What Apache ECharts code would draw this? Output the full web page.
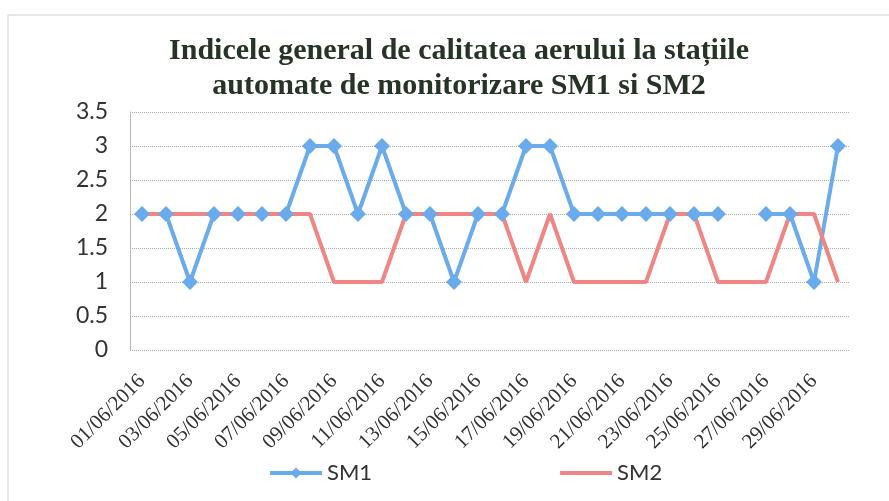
<!DOCTYPE html>
<html>
<head>
<meta charset="utf-8">
<script src="https://cdn.jsdelivr.net/npm/echarts@6/dist/echarts.min.js"></script>
<style>
html,body{margin:0;padding:0;background:#fff;}
#c{width:889px;height:501px;}
</style>
</head>
<body>
<div id="c"></div>
<script>
const categories = ["01/06/2016","02/06/2016","03/06/2016","04/06/2016","05/06/2016","06/06/2016","07/06/2016","08/06/2016","09/06/2016","10/06/2016","11/06/2016","12/06/2016","13/06/2016","14/06/2016","15/06/2016","16/06/2016","17/06/2016","18/06/2016","19/06/2016","20/06/2016","21/06/2016","22/06/2016","23/06/2016","24/06/2016","25/06/2016","26/06/2016","27/06/2016","28/06/2016","29/06/2016","30/06/2016"];
const sm1 = [2,2,1,2,2,2,2,3,3,2,3,2,2,1,2,2,3,3,2,2,2,2,2,2,2,null,2,2,1,3];
const sm2 = [2,2,2,2,2,2,2,2,1,1,1,2,2,2,2,2,1,2,1,1,1,1,2,2,1,1,1,2,2,1];
const yTicks = [0,0.5,1,1.5,2,2.5,3,3.5];

const chart = echarts.init(document.getElementById('c'));
chart.setOption({
  animation:false,
  backgroundColor:'#fff',
  title:{
    text:'Indicele general de calitatea aerului la stațiile\nautomate de monitorizare SM1 si SM2',
    left:454, textAlign:'center', top:29,
    textStyle:{fontFamily:'Liberation Serif',fontWeight:'bold',fontSize:30,color:'#263426',lineHeight:35}
  },
  graphic:[
    {type:'line',shape:{x1:8,y1:15,x2:889,y2:15},style:{stroke:'#cfcfcf',lineWidth:1}},
    {type:'line',shape:{x1:8,y1:15,x2:8,y2:501},style:{stroke:'#cfcfcf',lineWidth:1}}
  ],
  legend:{
    left:263, top:457, itemWidth:52, itemHeight:14, itemGap:186,
    textStyle:{fontFamily:'Lato',fontSize:22,color:'#333'},
    data:[
      {name:'SM1',lineStyle:{width:4}},
      {name:'SM2',lineStyle:{width:4},itemStyle:{opacity:0}}
    ]
  },
  grid:{left:130,right:39,top:112,bottom:151,containLabel:false},
  xAxis:{
    type:'category', data:categories, boundaryGap:true,
    axisLine:{show:false}, axisTick:{show:false},
    axisLabel:{interval:1, rotate:45, fontFamily:'Liberation Serif', fontSize:21, color:'#333', margin:28}
  },
  yAxis:{
    type:'value', min:0, max:3.5, interval:0.5,
    axisLine:{show:true,lineStyle:{color:'#bbb',width:1}},
    axisTick:{show:false},
    splitLine:{lineStyle:{color:'#aaa',type:'dotted',width:1}},
    axisLabel:{fontFamily:'Lato',fontSize:23,color:'#333',margin:22,
      formatter:function(v){return yTicks.indexOf(v)>=0?String(v):'';}}
  },
  series:[
    {name:'SM1',type:'line',data:sm1,connectNulls:false,
     symbol:'diamond',symbolSize:16,
     lineStyle:{color:'#6aabeb',width:4},itemStyle:{color:'#6aabeb'}},
    {name:'SM2',type:'line',data:sm2,symbol:'none',
     lineStyle:{color:'#f08585',width:4},itemStyle:{color:'#f08585'}}
  ]
});
</script>
</body>
</html>
